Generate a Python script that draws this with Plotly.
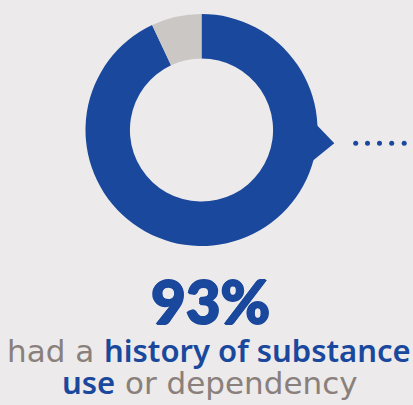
import plotly.graph_objects as go

labels = ["History of substance use or dependency", "No history"]
values = [93, 7]
colors = ["#1A489C", "#CBC7C4"]
headline = "93%"
line1_plain = "had a "
line1_bold = "history of substance"
line2_bold = "use"
line2_plain = " or dependency"

BG = "#ECEAEB"
BLUE = "#1A489C"
GRAY_TXT = "#8A807B"
W, H = 413, 405

fig = go.Figure()
cx, cy, r = 201.5, 130, 116
fig.add_trace(go.Pie(
    labels=labels, values=values, sort=False, direction="clockwise", rotation=0,
    hole=0.617, marker=dict(colors=colors, line=dict(width=0)),
    textinfo="none", hoverinfo="label+percent", showlegend=False,
    domain=dict(x=[(cx - r) / W, (cx + r) / W], y=[1 - (cy + r) / H, 1 - (cy - r) / H]),
))

# dotted leader
dots_x = [355.7, 367.5, 379.5, 391.7, 404.2]
dots_y = [143.3] * len(dots_x)
fig.add_trace(go.Scatter(x=dots_x, y=dots_y, mode="markers",
                         marker=dict(size=5, color=BLUE), hoverinfo="skip", showlegend=False))

fig.update_xaxes(range=[0, W], visible=False, fixedrange=True)
fig.update_yaxes(range=[H, 0], visible=False, fixedrange=True)

fig.add_shape(type="path", xref="x", yref="y",
              path="M 311 119 L 334.3 143.3 L 305 167 Z",
              fillcolor=BLUE, line=dict(width=0), layer="above")

def py(p):
    return 1 - p / H

BOLD = f"color:{BLUE};font-family:Noto Sans;font-weight:600"
fig.add_annotation(x=210 / W, y=py(339), xref="paper", yref="paper", xanchor="center", yanchor="bottom",
                   text=headline, showarrow=False,
                   font=dict(family="Lato", size=60, color=BLUE, weight=900,
                             shadow=f"1px 0 0 {BLUE}, -1px 0 0 {BLUE}, 0 1px 0 {BLUE}, 0 -1px 0 {BLUE}"))
fig.add_annotation(x=209.5 / W, y=py(373), xref="paper", yref="paper", xanchor="center", yanchor="bottom",
                   text=f"{line1_plain}<span style='{BOLD}'>{line1_bold}</span>", showarrow=False,
                   font=dict(family="DejaVu Sans", size=31, color=GRAY_TXT))
fig.add_annotation(x=210 / W, y=py(405), xref="paper", yref="paper", xanchor="center", yanchor="bottom",
                   text=f"<span style='{BOLD}'>{line2_bold}</span>{line2_plain}", showarrow=False,
                   font=dict(family="DejaVu Sans", size=31, color=GRAY_TXT))

fig.update_layout(width=W, height=H, margin=dict(l=0, r=0, t=0, b=0),
                  paper_bgcolor=BG, plot_bgcolor=BG)
fig.write_html("out.html", config={"displayModeBar": False},
               post_script="document.body.style.margin='0';")
